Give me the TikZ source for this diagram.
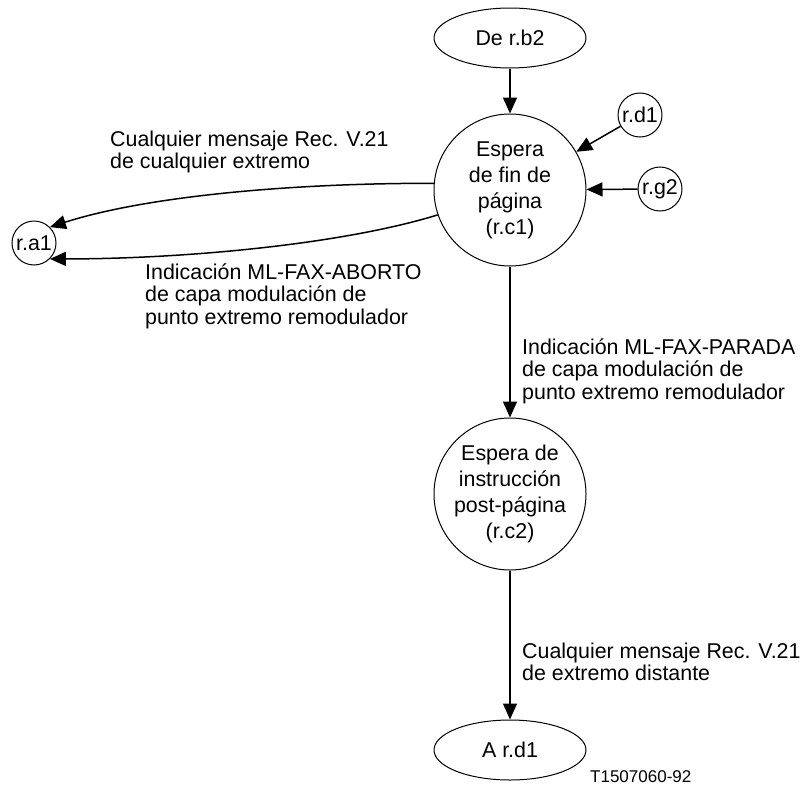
\documentclass[tikz,border=0pt]{standalone}
\usepackage{fontspec}
\setmainfont{Liberation Sans}
\usetikzlibrary{arrows.meta,shapes.geometric}
\begin{document}
\begin{tikzpicture}[x=1pt,y=-1pt,
  every node/.style={font=\fontsize{21.4}{22.6}\selectfont},
  state/.style={draw,circle,line width=1pt,minimum size=152pt,inner sep=0pt,align=center,
    font=\fontsize{21.4}{26}\selectfont},
  term/.style={draw,ellipse,line width=1pt,minimum width=152pt,minimum height=60pt,inner sep=0pt},
  conn/.style={draw,circle,line width=1pt,minimum size=44pt,inner sep=0pt},
  lbl/.style={anchor=west,align=left,inner sep=0pt},
  arr/.style={line width=1.5pt,-{Triangle[length=16pt,width=14pt]}}]
\useasboundingbox (0,0) rectangle (803,787);

% states and terminals
\node[term]  (b2) at (510,38)  {De r.b2};
\node[state] (c1) at (510,190) {Espera\\de fin de\\página\\(r.c1)};
\node[state] (c2) at (510,494) {Espera de\\instrucción\\post-página\\(r.c2)};
\node[term]  (rd) at (510,750) {A r.d1};

% connectors
\node[conn] (d1) at (640,115) {r.d1};
\node[conn] (g2) at (660,189) {r.g2};
\node[conn] (a1) at (34,243)  {r.a1};

% transitions
\draw[arr] (b2) -- (c1);
\draw[arr] (d1) -- (c1);
\draw[arr] (g2) -- (c1);
\draw[arr] (c1.175) .. controls (300,183) and (150,195) .. (a1.45);
\draw[arr] (c1.199) .. controls (340,245) and (180,259) .. (a1.-45);
\draw[arr] (c1) -- (c2);
\draw[arr] (c2) -- (rd);

% transition labels
\node[lbl] (t1) at (110,152) {Cualquier mensaje Rec. V.21\\de cualquier extremo};
\node[lbl] (t2) at (145,296) {Indicación ML-FAX-ABORTO\\de capa modulación de\\punto extremo remodulador};
\node[lbl] (t3) at (522,371) {Indicación ML-FAX-PARADA\\de capa modulación de\\punto extremo remodulador};
\node[lbl] (t4) at (522,662) {Cualquier mensaje Rec. V.21\\de extremo distante};

% figure reference
\node[anchor=west,inner sep=0pt,font=\fontsize{17}{20}\selectfont] (ref) at (590,777) {T1507060-92};
\end{tikzpicture}
\end{document}
